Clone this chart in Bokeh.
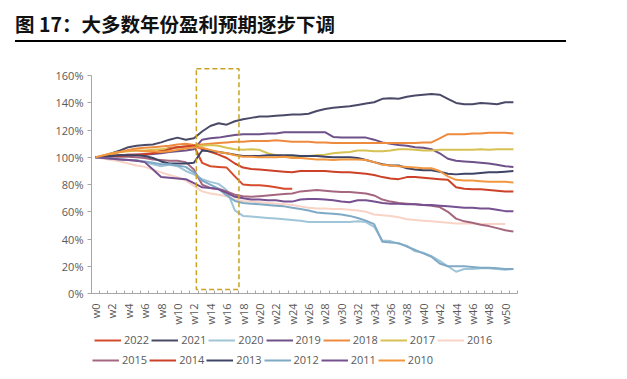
import numpy as np
from bokeh.plotting import figure
from bokeh.models import (Legend, LegendItem, FixedTicker, PrintfTickFormatter,
                          BoxAnnotation, Div, Range1d)
from bokeh.layouts import column
from bokeh.embed import file_html
from bokeh.resources import INLINE

# ---------------- data ----------------
weeks = list(range(52))
tick_weeks = list(range(0, 51, 2))
tick_labels = ["w%d" % w for w in tick_weeks]
y_ticks = [0, 20, 40, 60, 80, 100, 120, 140, 160]

years = ["2022", "2021", "2020", "2019", "2018", "2017", "2016",
         "2015", "2014", "2013", "2012", "2011", "2010"]

v2022 = [100, 100.5, 101, 101.5, 102, 102, 102.5, 103, 105, 107, 107.5, 108, 108.5,
         96, 93.5, 93, 92.5, 86, 80, 79.5, 79.5, 79, 78, 77, 77]
v2021 = [100, 101, 103, 105, 107.5, 108.5, 109, 109.5, 111, 113, 114.5, 113, 114,
         119, 123, 125, 124, 126.5, 128, 129, 130, 130, 130.5, 131, 131.5, 131.5,
         132, 134, 135.5, 136.5, 137, 137.5, 138.5, 139.5, 140.5, 143, 143.5, 143,
         144.5, 145.5, 146, 146.5, 146, 143, 140, 139, 139, 140, 139.5, 139, 140.5, 140.5]
v2020 = [100, 99.5, 99, 98.5, 98, 98, 96.5, 95, 93.5, 94.5, 93.5, 90, 87.5, 84, 82,
         80.5, 76, 61, 57, 56.5, 56, 55.5, 55, 54.5, 54, 53.5, 52.5, 52.5, 52.5, 52.5,
         52.5, 52.5, 53, 52.5, 49, 39, 38.5, 36.5, 35, 31, 30, 27.5, 24, 20, 16, 18,
         18, 18.5, 18.5, 18, 17.5, 18]
v2019 = [100, 100.5, 101, 101.5, 102, 102, 102, 102.5, 103, 104, 104.5, 105, 106,
         113, 114, 114.5, 115.5, 116.5, 117, 117, 117, 117.5, 117.5, 118.5, 118.5,
         118.5, 118.5, 118.5, 118.5, 115, 114.5, 114.5, 114.5, 114.5, 113, 111, 110,
         109, 108.5, 107.5, 107, 106, 103, 99, 97.5, 97, 96.5, 96, 95.5, 94.5, 93.5, 93]
v2018 = [100, 101, 102, 104, 105.5, 106.5, 107, 107.5, 108, 108.5, 109.5, 110, 109,
         109.5, 110, 110.5, 111, 111.5, 111.5, 112, 112, 112, 112.5, 112, 111.5, 111.5,
         111.5, 111, 111, 110.5, 110.5, 110.5, 110.5, 110.5, 110.5, 110.5, 110.5, 110.5,
         110.5, 110.5, 111, 111, 114, 117, 117, 117, 117.5, 117.5, 118, 118, 118, 117.5]
v2017 = [100, 101.5, 103, 104, 104.5, 105, 105, 105.5, 106, 106.5, 107, 107.5, 108,
         108.5, 109, 108.5, 107, 106, 105.5, 106, 105.5, 103, 101.5, 101, 100.5, 100.5,
         101, 101.5, 102, 103, 103.5, 104, 105, 105, 104.5, 104.5, 105, 106, 106, 105.5,
         105, 105, 105.5, 105.5, 105.5, 105.5, 105.5, 106, 105.5, 106, 106, 106]
v2016 = [100, 99, 98, 97, 95.5, 94, 93, 91, 89, 87, 85.5, 83, 79, 75, 73.5, 72.5, 71.5,
         69, 68, 67.5, 67, 66.5, 66, 65.5, 65, 64, 63, 62.5, 62.5, 62, 62, 61.5, 61, 60,
         58, 57.5, 57, 56, 54.5, 54, 53.5, 53, 52.5, 52, 51.5, 51.5, 51.5, 51, 51, 51, 51]
v2015 = [100, 100, 100.5, 100.5, 100.5, 100, 99.5, 98.5, 98, 97.5, 97.5, 96.5, 91, 80,
         77.5, 77, 75, 72.5, 71.5, 71, 71.5, 72, 72.5, 73, 73.5, 75, 75.5, 76, 75.5, 75,
         74.5, 74.5, 74, 73.5, 72, 69, 67.5, 66.5, 66, 65.5, 65, 64.5, 63.5, 60, 55, 53,
         52, 50.5, 49.5, 48, 46.5, 45.5]
v2014 = [100, 100.5, 101, 101, 101.5, 102, 102, 103, 104, 106, 107.5, 108, 108.5, 106,
         104, 102, 99.5, 95.5, 92.5, 91.5, 91, 90.5, 90, 89.5, 89, 90, 90, 90, 90, 89.5,
         89, 89, 88.5, 88, 87, 85.5, 84.5, 84, 85.5, 85.5, 85, 84.5, 84, 83.5, 78, 77,
         76.5, 76.5, 76, 75.5, 75, 75]
v2013 = [100, 100.5, 101, 101.5, 101.5, 101.5, 101, 99.5, 97, 95.5, 95.5, 95.5, 96, 105,
         104.5, 104, 103, 102, 101, 101, 101, 101.5, 101.5, 101.5, 101.5, 101, 101, 101,
         100.5, 100, 100, 100, 99.5, 98, 96.5, 95, 94, 94, 92, 91, 90.5, 90.5, 89.5, 88,
         87.5, 88, 88, 88.5, 89, 89, 89.5, 90]
v2012 = [100, 99.5, 99, 98.5, 98, 97.5, 97, 96, 95, 95, 94, 93, 89, 83, 80, 77, 72, 68,
         66.5, 66, 65.5, 65, 64.5, 64, 63, 62, 61, 59.5, 59, 58.5, 58, 57, 55.5, 53.5, 51,
         38, 37.5, 37, 34.5, 32, 29.5, 27, 22, 20, 20, 20, 19.5, 19, 19, 18.5, 18, 18]
v2011 = [100, 99.5, 99, 98.5, 98, 97.5, 96.5, 91, 85.5, 85, 84.5, 84, 81, 78, 77.5, 76.5,
         74, 71, 70, 69, 69, 68.5, 68.5, 67.5, 67.5, 69, 69.5, 69.5, 69, 68.5, 67.5, 67,
         68.5, 68.5, 67.5, 66.5, 66, 66, 65.5, 65.5, 65, 65, 64.5, 64, 63.5, 63, 63, 62.5,
         62.5, 61.5, 60.5, 60.5]
v2010 = [100, 101.5, 103, 104, 105, 105, 104.5, 104.5, 104, 104.5, 105.5, 106.5, 107.5,
         107, 105.5, 104, 103, 101.5, 100.5, 100.5, 100, 100, 100, 100.5, 99.5, 99.5, 99,
         98.5, 98.5, 98, 98.5, 98.5, 98.5, 98, 96.5, 94.5, 94, 93.5, 93, 92.5, 92, 92, 90,
         86, 83.5, 83, 83, 82.5, 82, 82, 82, 81.5]

series = [v2022, v2021, v2020, v2019, v2018, v2017, v2016,
          v2015, v2014, v2013, v2012, v2011, v2010]

colors = ["#D64B2B", "#4A4A68", "#9FC5D8", "#6E5189", "#EE8A3D", "#D6C152", "#F8D3C6",
          "#A5677F", "#CC4127", "#3E4465", "#7FA9C5", "#765090", "#F2973F"]

highlight = dict(left=12.3, right=17.5, bottom=3, top=165)

# ---------------- main chart ----------------
FONT = "Open Sans"
GREY = "#595959"

p = figure(frame_width=426, frame_height=226,
           x_range=Range1d(-0.5, 51.5), y_range=Range1d(0, 166),
           output_backend="svg", toolbar_location=None,
           min_border_left=91, min_border_top=17, min_border_right=40,
           min_border_bottom=40)
p.xgrid.visible = False
p.ygrid.visible = False
p.outline_line_color = None

for vals, c in zip(series, colors):
    p.line(weeks[:len(vals)], vals, line_color=c, line_width=2)

p.add_layout(BoxAnnotation(fill_alpha=0, line_color="#C9A227", line_alpha=1,
                           line_width=1.5, line_dash="5 3", **highlight))

xa = p.xaxis[0]
xa.ticker = FixedTicker(ticks=tick_weeks, minor_ticks=[w - 0.5 for w in weeks] + [51.5])
xa.major_label_overrides = {w: l for w, l in zip(tick_weeks, tick_labels)}
xa.major_label_orientation = np.pi / 2
xa.major_tick_line_color = None
xa.minor_tick_in = 3
xa.minor_tick_out = 0
xa.minor_tick_line_color = "#A6A6A6"
xa.axis_line_color = "#A6A6A6"
xa.bounds = (-0.5, 51.5)
xa.major_label_text_font = FONT
xa.major_label_text_font_size = "11px"
xa.major_label_text_color = GREY
xa.major_label_standoff = 4

ya = p.yaxis[0]
ya.ticker = FixedTicker(ticks=y_ticks)
ya.formatter = PrintfTickFormatter(format="%d%%")
ya.bounds = (0, 160)
ya.minor_tick_line_color = None
ya.major_tick_in = 0
ya.major_tick_out = 4
ya.major_tick_line_color = "#A6A6A6"
ya.axis_line_color = "#A6A6A6"
ya.major_label_text_font = FONT
ya.major_label_text_font_size = "11px"
ya.major_label_text_color = GREY
ya.major_label_standoff = 4

# ---------------- legend strip ----------------
pl = figure(frame_width=560, frame_height=45, x_range=Range1d(0, 1), y_range=Range1d(0, 1),
            output_backend="svg", toolbar_location=None,
            x_axis_type=None, y_axis_type=None,
            min_border_left=0, min_border_right=0, min_border_top=0, min_border_bottom=0)
pl.xgrid.visible = False
pl.ygrid.visible = False
pl.outline_line_color = None

legend_pairs = []
for yr, c in zip(years, colors):
    # legend proxy: a single undefined point (draws nothing, only feeds the legend)
    r = pl.line(x=[np.nan], y=[np.nan], line_color=c, line_width=2)
    legend_pairs.append((yr, r))

def make_legend(pairs, loc):
    return Legend(items=[LegendItem(label=yr, renderers=[r]) for yr, r in pairs],
                  orientation="horizontal", location=loc,
                  glyph_width=27, glyph_height=14, label_standoff=3, spacing=2,
                  padding=0, margin=0, border_line_color=None,
                  background_fill_alpha=0, label_text_font=FONT,
                  label_text_font_size="11px", label_text_color=GREY,
                  label_height=14)

pl.add_layout(make_legend(legend_pairs[:7], (94, 31)))
pl.add_layout(make_legend(legend_pairs[7:], (92, 11)))

title = Div(text=("<div style=\"margin:12px 0 0 15px;width:551px;line-height:24px;"
                  "padding-bottom:4px;border-bottom:2px solid #000;"
                  "font-family:'Noto Sans CJK SC';font-weight:bold;font-size:19.5px;"
                  "color:#111;white-space:nowrap;\">图 17：大多数年份盈利预期逐步下调</div>"),
            width=600, height=50, margin=(0, 0, 0, 0))

layout = column(title, p, pl, spacing=0)
open("out.html", "w").write(file_html(layout, INLINE))
